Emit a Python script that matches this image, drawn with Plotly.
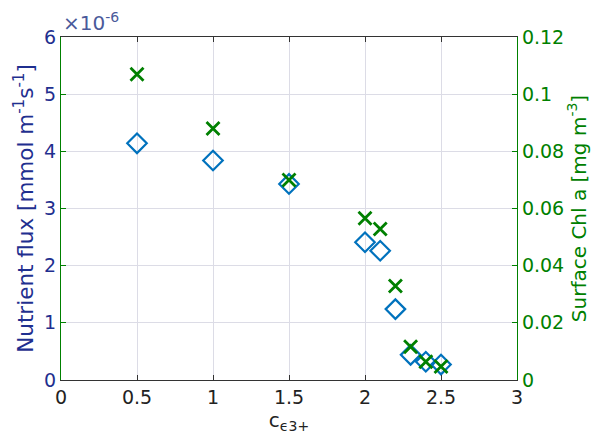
import plotly.graph_objects as go

# x values (c_eps3+)
c_eps = [0.5, 1.0, 1.5, 2.0, 2.1, 2.2, 2.3, 2.4, 2.5]
# Nutrient flux in units of 1e-6 mmol m^-1 s^-1
flux_e6 = [4.14, 3.84, 3.43, 2.41, 2.26, 1.24, 0.44, 0.32, 0.27]
# Surface Chl a [mg m^-3]
chl = [0.107, 0.088, 0.070, 0.0566, 0.0528, 0.0329, 0.0116, 0.0064, 0.0047]

x_ticks = [0, 0.5, 1, 1.5, 2, 2.5, 3]
x_ticktext = ["0", "0.5", "1", "1.5", "2", "2.5", "3"]
yl_ticks = [0, 1, 2, 3, 4, 5, 6]
yr_ticks = [0, 0.02, 0.04, 0.06, 0.08, 0.1, 0.12]
yr_ticktext = ["0", "0.02", "0.04", "0.06", "0.08", "0.1", "0.12"]

BLUE_MK = "#0072BD"
GREEN = "#008000"
NAVY = "#1f2f8f"
FONT = "DejaVu Sans, Liberation Sans, Arial, sans-serif"

fig = go.Figure()
fig.add_trace(go.Scatter(
    x=c_eps, y=flux_e6, mode="markers", yaxis="y",
    marker=dict(symbol="diamond-open", size=15, color=BLUE_MK,
                line=dict(width=2.2, color=BLUE_MK)),
    showlegend=False))
fig.add_trace(go.Scatter(
    x=c_eps, y=chl, mode="markers", yaxis="y2",
    marker=dict(symbol="x-thin-open", size=13, color=GREEN,
                line=dict(width=2.8, color=GREEN)),
    showlegend=False))

fig.update_layout(
    width=601, height=441,
    margin=dict(l=61, r=84, t=37, b=61),
    plot_bgcolor="white", paper_bgcolor="white",
    font=dict(family=FONT, size=19, color="#222"),
    xaxis=dict(
        range=[0, 3], tickvals=x_ticks, ticktext=x_ticktext,
        showgrid=True, gridcolor="#dcdce6", gridwidth=1,
        zeroline=False, showline=True, linecolor="#333", linewidth=1.2,
        mirror="ticks", ticks="inside", ticklen=5, tickcolor="#333",
        tickfont=dict(size=19, color="#222"),
        title=dict(text="c<sub>ϵ3+</sub>", font=dict(size=20, color="#222"),
                   standoff=2),
    ),
    yaxis=dict(
        range=[0, 6], tickvals=yl_ticks,
        showgrid=True, gridcolor="#dcdce6", gridwidth=1,
        zeroline=False, showline=True, linecolor=GREEN, linewidth=1.2,
        ticks="inside", ticklen=5, tickcolor=GREEN,
        tickfont=dict(size=19, color=NAVY),
        title=dict(text="Nutrient flux [mmol m<sup>-1</sup>s<sup>-1</sup>]",
                   font=dict(size=21.5, color=NAVY), standoff=4),
    ),
    yaxis2=dict(
        range=[0, 0.12], tickvals=yr_ticks, ticktext=yr_ticktext,
        overlaying="y", side="right", showgrid=False,
        zeroline=False, showline=True, linecolor=GREEN, linewidth=1.2,
        ticks="inside", ticklen=5, tickcolor=GREEN,
        tickfont=dict(size=19, color=GREEN),
        title=dict(text="Surface Chl a [mg m<sup>-3</sup>]",
                   font=dict(size=20, color=GREEN), standoff=6),
    ),
    annotations=[dict(
        text="×10<sup>-6</sup>", xref="paper", yref="paper",
        x=0.0, y=1.0, xanchor="left", yanchor="bottom", yshift=0,
        showarrow=False, font=dict(size=20, color="#4a5a9a", family=FONT))],
)

fig.write_html("out.html")
